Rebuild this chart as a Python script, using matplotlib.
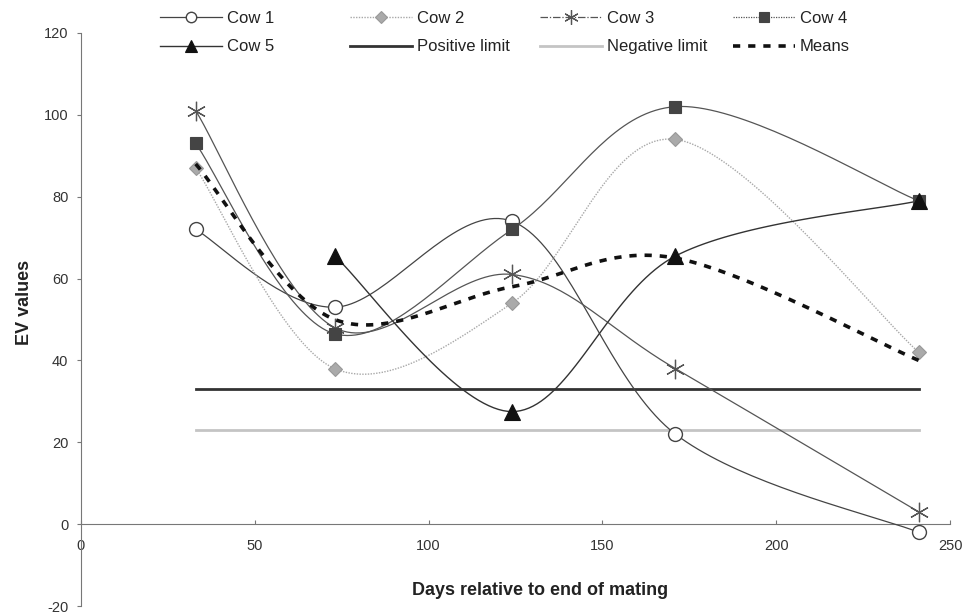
import numpy as np
import matplotlib
matplotlib.use("Agg")
import matplotlib.pyplot as plt
from matplotlib.lines import Line2D

plt.rcParams['font.family'] = ['Liberation Sans', 'DejaVu Sans']
plt.rcParams['axes.unicode_minus'] = False

# data
days = [33, 73, 124, 171, 241]
cow1 = [72, 53, 74, 22, -2]
cow2 = [87, 38, 54, 94, 42]
cow3 = [101, 48, 61, 38, 3]
cow4 = [93, 46.5, 72, 102, 79]
cow5 = [None, 65.5, 27.5, 65.5, 79]
means = [88, 50, 58, 65, 40]
positive_limit = 33
negative_limit = 23


def smooth(xs, ys, n=40):
    # Excel-like smoothed line (cardinal bezier through the points)
    pts = [(x, y) for x, y in zip(xs, ys) if y is not None]
    p = np.array(pts, dtype=float)
    if len(p) < 3:
        return p[:, 0], p[:, 1]
    ext = np.vstack([p[0], p, p[-1]])
    out = []
    t = np.linspace(0, 1, n)[:, None]
    for i in range(1, len(ext) - 2):
        p0, p1, p2, p3 = ext[i - 1], ext[i], ext[i + 1], ext[i + 2]
        c1 = p1 + (p2 - p0) / 6
        c2 = p2 - (p3 - p1) / 6
        seg = ((1 - t) ** 3) * p1 + 3 * ((1 - t) ** 2) * t * c1 + 3 * (1 - t) * t ** 2 * c2 + t ** 3 * p2
        out.append(seg if i == 1 else seg[1:])
    out = np.vstack(out)
    return out[:, 0], out[:, 1]


fig = plt.figure(figsize=(9.64, 6.14), dpi=100)
ax = fig.add_axes([0.084, 0.013, 0.9015, 0.9333])

styles = [
    (cow1, "Cow 1", dict(color="#444444", lw=0.9, ls="-"),
     dict(marker="o", ms=10, mfc="white", mec="#444444", mew=1.0)),
    (cow2, "Cow 2", dict(color="#a8a8a8", lw=1.0, ls=(0, (1, 1))),
     dict(marker="D", ms=7.5, mfc="#aaaaaa", mec="#999999", mew=0.8)),
    (cow3, "Cow 3", dict(color="#555555", lw=0.9, ls="-"),
     dict(marker=(6, 2, 0), ms=14, mfc="#555555", mec="#555555", mew=0.9)),
    (cow4, "Cow 4", dict(color="#555555", lw=0.9, ls="-"),
     dict(marker="s", ms=9, mfc="#444444", mec="#444444", mew=0.8)),
    (cow5, "Cow 5", dict(color="#333333", lw=1.0, ls="-"),
     dict(marker="^", ms=11, mfc="#111111", mec="#111111", mew=0.8)),
]
legend_ls = {"Cow 3": (0, (6, 1.5, 1, 1.5)), "Cow 4": (0, (1, 1))}

handles = {}
for ys, name, lstyle, mstyle in styles:
    sx, sy = smooth(days, ys)
    ax.plot(sx, sy, zorder=3, **lstyle)
    xv = [x for x, y in zip(days, ys) if y is not None]
    yv = [y for y in ys if y is not None]
    ax.plot(xv, yv, ls="none", zorder=4, **mstyle)
    hl = dict(lstyle)
    hl["ls"] = legend_ls.get(name, hl["ls"])
    hm = dict(mstyle)
    hm["ms"] = mstyle["ms"] * 0.75
    handles[name] = Line2D([], [], **hl, **hm)

ax.plot([days[0], days[-1]], [positive_limit, positive_limit], color="#333333", lw=2.0, zorder=2)
ax.plot([days[0], days[-1]], [negative_limit, negative_limit], color="#c4c4c4", lw=2.0, zorder=2)
mx, my = smooth(days, means)
ax.plot(mx, my, color="#111111", lw=2.6, ls=(0, (2.0, 2.2)), zorder=5)

handles["Positive limit"] = Line2D([], [], color="#333333", lw=2.0)
handles["Negative limit"] = Line2D([], [], color="#c4c4c4", lw=2.0)
handles["Means"] = Line2D([], [], color="#111111", lw=2.6, ls=(0, (2.0, 2.2)))

ax.set_xlim(0, 250)
ax.set_ylim(-20, 120)
ax.set_xticks([0, 50, 100, 150, 200, 250])
ax.set_yticks([-20, 0, 20, 40, 60, 80, 100, 120])

ax.spines["top"].set_visible(False)
ax.spines["right"].set_visible(False)
ax.spines["bottom"].set_position(("data", 0))
ax.spines["left"].set_color("#777777")
ax.spines["bottom"].set_color("#777777")
ax.spines["left"].set_linewidth(0.8)
ax.spines["bottom"].set_linewidth(0.8)
ax.tick_params(axis="y", direction="out", length=3, width=0.8, color="#777777",
               labelsize=10.5, labelcolor="#333333", pad=6)
ax.tick_params(axis="x", direction="in", length=3, width=0.8, color="#777777",
               labelsize=10.5, labelcolor="#333333", pad=11)

ax.set_xlabel("Days relative to end of mating", fontsize=13, fontweight="bold", color="#222222")
ax.xaxis.set_label_coords(0.528, 0.042)
ax.set_ylabel("EV values", fontsize=13, fontweight="bold", color="#222222")
ax.yaxis.set_label_coords(-0.055, 0.53)

# legend in four fixed columns, two rows each
columns = [["Cow 1", "Cow 5"], ["Cow 2", "Positive limit"],
           ["Cow 3", "Negative limit"], ["Cow 4", "Means"]]
col_x = [160, 350, 540, 733]
for names, x in zip(columns, col_x):
    fig.legend([handles[n] for n in names], names, loc="upper left",
               bbox_to_anchor=(x / 964, 1 - 11 / 614), frameon=False,
               fontsize=12, handlelength=3.7, handletextpad=0.3,
               labelspacing=0.8, borderpad=0, borderaxespad=0, numpoints=1,
               labelcolor="#222222")

fig.savefig("out.png", dpi=100)
plt.close(fig)
